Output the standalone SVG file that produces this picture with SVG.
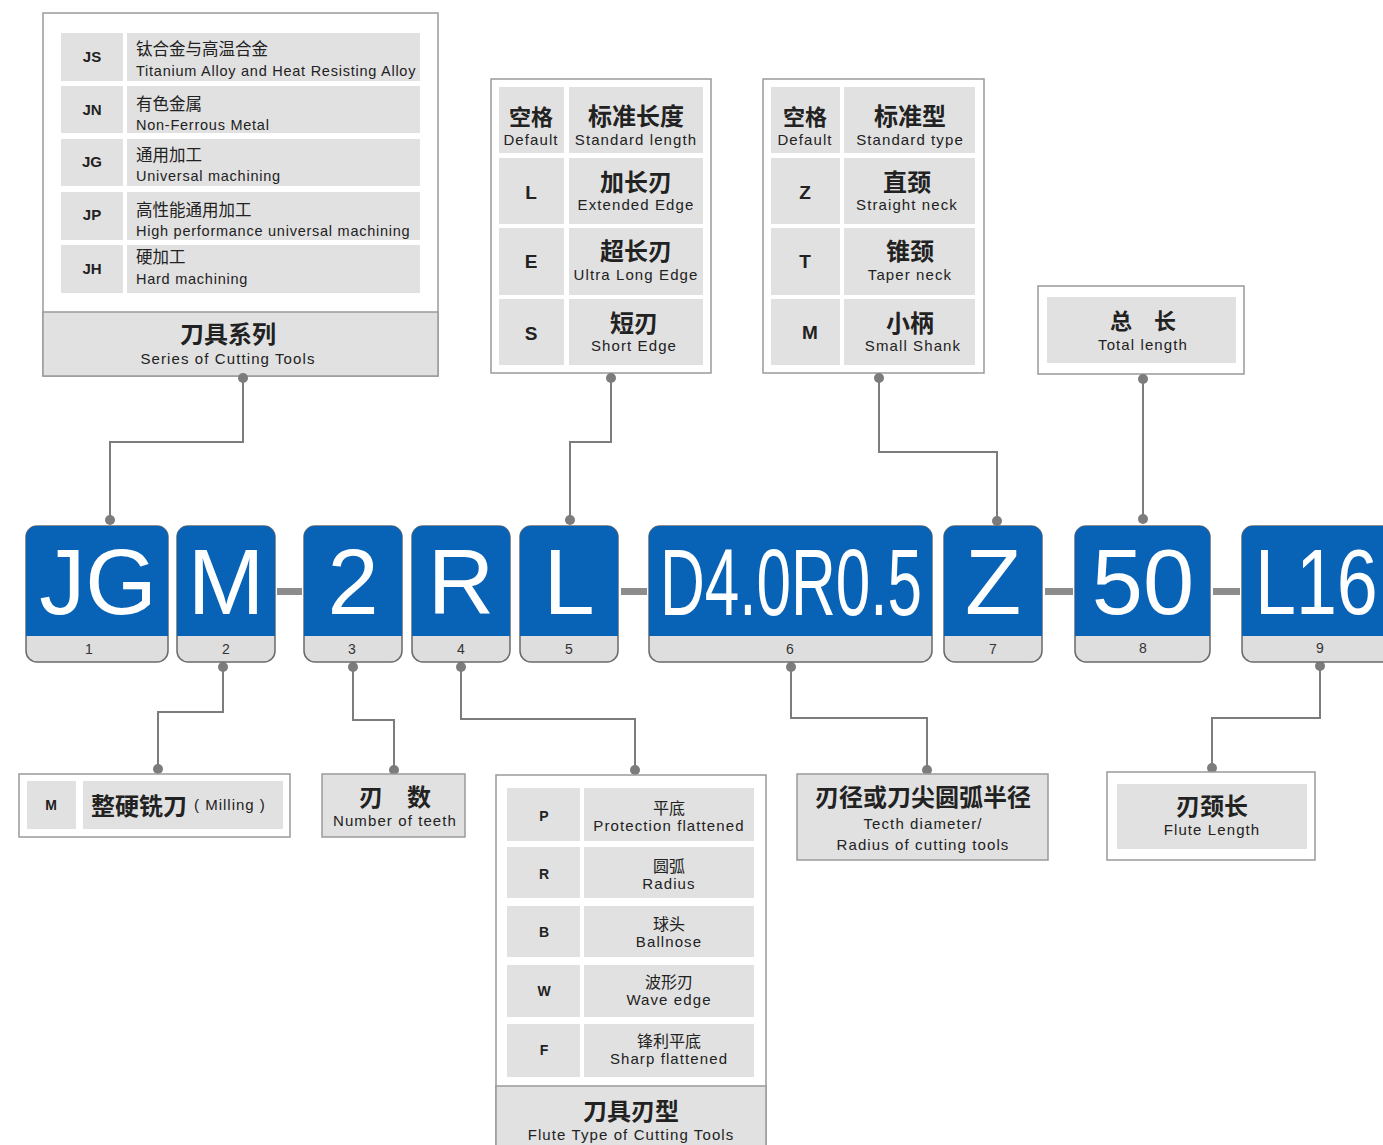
<svg xmlns="http://www.w3.org/2000/svg" width="1383" height="1145" viewBox="0 0 1383 1145">
<style>
.box{fill:#fff;stroke:#9a9a9a;stroke-width:1.5}
.cell{fill:#e1e1e1}
.gbox{fill:#e1e1e1;stroke:#9a9a9a;stroke-width:1.5}
text{font-family:"Liberation Sans","Noto Sans CJK SC",sans-serif;fill:#222}
.k{font-weight:bold;font-size:15px;text-anchor:middle}
.kb{font-weight:bold;font-size:19px;text-anchor:middle}
.cn{font-size:16.5px}
.en{font-size:14.5px;letter-spacing:0.75px}
.h{font-weight:bold;font-size:24px;text-anchor:middle}
.s{font-size:15px;text-anchor:middle;letter-spacing:1.1px}
.sc{font-size:16px;text-anchor:middle}
.big{font-size:92px;fill:#fff;text-anchor:middle}
.num{font-size:14px;fill:#333;text-anchor:middle}
.blue{fill:#0862b6}
.band{fill:#dedede;stroke:#6a6a6a;stroke-width:1.5}
.line{fill:none;stroke:#7c7c7c;stroke-width:2}
.dot{fill:#7c7c7c}
.dash{fill:#8c8c8c}
</style>

<g id="series-box">
<rect class="box" x="43" y="13" width="395" height="363"/>
<rect class="cell" x="61" y="33" width="62" height="48"/><rect class="cell" x="127" y="33" width="293" height="48"/>
<rect class="cell" x="61" y="86" width="62" height="47"/><rect class="cell" x="127" y="86" width="293" height="47"/>
<rect class="cell" x="61" y="139" width="62" height="47"/><rect class="cell" x="127" y="139" width="293" height="47"/>
<rect class="cell" x="61" y="192" width="62" height="48"/><rect class="cell" x="127" y="192" width="293" height="48"/>
<rect class="cell" x="61" y="245" width="62" height="48"/><rect class="cell" x="127" y="245" width="293" height="48"/>
<text class="k" x="92" y="62">JS</text>
<text class="cn" x="136" y="55">钛合金与高温合金</text><text class="en" x="136" y="76">Titanium Alloy and Heat Resisting Alloy</text>
<text class="k" x="92" y="115">JN</text>
<text class="cn" x="136" y="110">有色金属</text><text class="en" x="136" y="130">Non-Ferrous Metal</text>
<text class="k" x="92" y="167">JG</text>
<text class="cn" x="136" y="161">通用加工</text><text class="en" x="136" y="181">Universal machining</text>
<text class="k" x="92" y="220">JP</text>
<text class="cn" x="136" y="216">高性能通用加工</text><text class="en" x="136" y="236">High performance universal machining</text>
<text class="k" x="92" y="274">JH</text>
<text class="cn" x="136" y="263">硬加工</text><text class="en" x="136" y="284">Hard machining</text>
<rect class="gbox" x="43" y="312" width="395" height="64"/>
<text class="h" x="228" y="343">刀具系列</text>
<text class="s" x="228" y="364">Series of Cutting Tools</text>
</g>

<g id="length-box">
<rect class="box" x="491" y="79" width="220" height="294"/>
<rect class="cell" x="499" y="87" width="65" height="66"/><rect class="cell" x="569" y="87" width="134" height="66"/>
<rect class="cell" x="499" y="158" width="65" height="66"/><rect class="cell" x="569" y="158" width="134" height="66"/>
<rect class="cell" x="499" y="228" width="65" height="67"/><rect class="cell" x="569" y="228" width="134" height="67"/>
<rect class="cell" x="499" y="299" width="65" height="66"/><rect class="cell" x="569" y="299" width="134" height="66"/>
<text class="h" x="531" y="125" style="font-size:22px">空格</text><text class="s" x="531" y="145">Default</text>
<text class="h" x="636" y="125">标准长度</text><text class="s" x="636" y="145">Standard length</text>
<text class="kb" x="531" y="199">L</text>
<text class="h" x="636" y="191">加长刃</text><text class="s" x="636" y="210">Extended Edge</text>
<text class="kb" x="531" y="268">E</text>
<text class="h" x="636" y="260">超长刃</text><text class="s" x="636" y="280">Ultra Long Edge</text>
<text class="kb" x="531" y="340">S</text>
<text class="h" x="634" y="332">短刃</text><text class="s" x="634" y="351">Short Edge</text>
</g>

<g id="neck-box">
<rect class="box" x="763" y="79" width="221" height="294"/>
<rect class="cell" x="771" y="87" width="69" height="66"/><rect class="cell" x="844" y="87" width="131" height="66"/>
<rect class="cell" x="771" y="158" width="69" height="66"/><rect class="cell" x="844" y="158" width="131" height="66"/>
<rect class="cell" x="771" y="228" width="69" height="67"/><rect class="cell" x="844" y="228" width="131" height="67"/>
<rect class="cell" x="771" y="299" width="69" height="66"/><rect class="cell" x="844" y="299" width="131" height="66"/>
<text class="h" x="805" y="125" style="font-size:22px">空格</text><text class="s" x="805" y="145">Default</text>
<text class="h" x="910" y="125">标准型</text><text class="s" x="910" y="145">Standard type</text>
<text class="kb" x="805" y="199">Z</text>
<text class="h" x="907" y="191">直颈</text><text class="s" x="907" y="210">Straight neck</text>
<text class="kb" x="805" y="268">T</text>
<text class="h" x="910" y="260">锥颈</text><text class="s" x="910" y="280">Taper neck</text>
<text class="kb" x="810" y="339">M</text>
<text class="h" x="910" y="332">小柄</text><text class="s" x="913" y="351">Small Shank</text>
</g>

<g id="total-box">
<rect class="box" x="1038" y="286" width="206" height="88"/>
<rect class="cell" x="1047" y="297" width="189" height="66"/>
<text class="h" x="1143" y="329" style="font-size:22px">总　长</text>
<text class="s" x="1143" y="350">Total  length</text>
</g>

<g id="connectors">
<polyline class="line" points="243,378 243,442 110,442 110,520"/>
<circle class="dot" cx="243" cy="378" r="5"/><circle class="dot" cx="110" cy="520" r="5"/>
<polyline class="line" points="611,378 611,442 570,442 570,520"/>
<circle class="dot" cx="611" cy="378" r="5"/><circle class="dot" cx="570" cy="520" r="5"/>
<polyline class="line" points="879,378 879,452 997,452 997,521"/>
<circle class="dot" cx="879" cy="378" r="5"/><circle class="dot" cx="997" cy="521" r="5"/>
<polyline class="line" points="1143,379 1143,519"/>
<circle class="dot" cx="1143" cy="379" r="5"/><circle class="dot" cx="1143" cy="519" r="5"/>
<polyline class="line" points="223,667 223,712 158,712 158,769"/>
<circle class="dot" cx="223" cy="667" r="5"/><circle class="dot" cx="158" cy="769" r="5"/>
<polyline class="line" points="353,667 353,720 394,720 394,770"/>
<circle class="dot" cx="353" cy="667" r="5"/><circle class="dot" cx="394" cy="770" r="5"/>
<polyline class="line" points="461,667 461,719 635,719 635,770"/>
<circle class="dot" cx="461" cy="667" r="5"/><circle class="dot" cx="635" cy="770" r="5"/>
<polyline class="line" points="791,667 791,718 927,718 927,770"/>
<circle class="dot" cx="791" cy="667" r="5"/><circle class="dot" cx="927" cy="770" r="5"/>
<polyline class="line" points="1320,666 1320,718 1212,718 1212,768"/>
<circle class="dot" cx="1320" cy="666" r="5"/><circle class="dot" cx="1212" cy="768" r="5"/>
</g>

<g id="dashes">
<rect class="dash" x="277" y="588" width="25" height="7"/>
<rect class="dash" x="621" y="588" width="26" height="7"/>
<rect class="dash" x="1045" y="588" width="28" height="7"/>
<rect class="dash" x="1213" y="588" width="27" height="7"/>
</g>

<g id="code-1">
<rect class="band" x="26" y="526" width="142" height="136" rx="11"/>
<path class="blue" d="M26,636 V537 a11,11 0 0 1 11,-11 H157 a11,11 0 0 1 11,11 V636 Z"/>
<text class="big" x="98" y="614">JG</text><text class="num" x="89" y="654">1</text>
</g>
<g id="code-2">
<rect class="band" x="177" y="526" width="98" height="136" rx="11"/>
<path class="blue" d="M177,636 V537 a11,11 0 0 1 11,-11 H264 a11,11 0 0 1 11,11 V636 Z"/>
<text class="big" x="226" y="614">M</text><text class="num" x="226" y="654">2</text>
</g>
<g id="code-3">
<rect class="band" x="304" y="526" width="98" height="136" rx="11"/>
<path class="blue" d="M304,636 V537 a11,11 0 0 1 11,-11 H391 a11,11 0 0 1 11,11 V636 Z"/>
<text class="big" x="353" y="614">2</text><text class="num" x="352" y="654">3</text>
</g>
<g id="code-4">
<rect class="band" x="412" y="526" width="98" height="136" rx="11"/>
<path class="blue" d="M412,636 V537 a11,11 0 0 1 11,-11 H499 a11,11 0 0 1 11,11 V636 Z"/>
<text class="big" x="461" y="614">R</text><text class="num" x="461" y="654">4</text>
</g>
<g id="code-5">
<rect class="band" x="520" y="526" width="98" height="136" rx="11"/>
<path class="blue" d="M520,636 V537 a11,11 0 0 1 11,-11 H607 a11,11 0 0 1 11,11 V636 Z"/>
<text class="big" x="569" y="614">L</text><text class="num" x="569" y="654">5</text>
</g>
<g id="code-6">
<rect class="band" x="649" y="526" width="283" height="136" rx="11"/>
<path class="blue" d="M649,636 V537 a11,11 0 0 1 11,-11 H921 a11,11 0 0 1 11,11 V636 Z"/>
<text class="big" transform="translate(791,615) scale(0.66,1)" x="0" y="0" style="font-size:94px">D4.0R0.5</text><text class="num" x="790" y="654">6</text>
</g>
<g id="code-7">
<rect class="band" x="944" y="526" width="98" height="136" rx="11"/>
<path class="blue" d="M944,636 V537 a11,11 0 0 1 11,-11 H1031 a11,11 0 0 1 11,11 V636 Z"/>
<text class="big" x="993" y="614">Z</text><text class="num" x="993" y="654">7</text>
</g>
<g id="code-8">
<rect class="band" x="1075" y="526" width="135" height="136" rx="11"/>
<path class="blue" d="M1075,636 V537 a11,11 0 0 1 11,-11 H1199 a11,11 0 0 1 11,11 V636 Z"/>
<text class="big" x="1143" y="614">50</text><text class="num" x="1143" y="653">8</text>
</g>
<g id="code-9">
<rect class="band" x="1242" y="526" width="160" height="136" rx="11"/>
<path class="blue" d="M1242,636 V537 a11,11 0 0 1 11,-11 H1391 a11,11 0 0 1 11,11 V636 Z"/>
<text class="big" transform="translate(1255,614) scale(0.8,1)" x="0" y="0" style="text-anchor:start">L16</text><text class="num" x="1320" y="653">9</text>
</g>

<g id="milling-box">
<rect class="box" x="19" y="774" width="271" height="63"/>
<rect class="cell" x="27" y="781" width="49" height="48"/>
<rect class="cell" x="83" y="781" width="200" height="48"/>
<text class="k" x="51" y="810" style="font-size:14px">M</text>
<text x="91" y="815" style="font-weight:bold;font-size:24px">整硬铣刀</text>
<text x="194" y="810" style="font-size:15px;letter-spacing:1px">( Milling )</text>
</g>

<g id="teeth-box">
<rect class="gbox" x="322" y="774" width="143" height="63"/>
<text class="h" x="395" y="806">刃　数</text>
<text class="s" x="395" y="826">Number of teeth</text>
</g>

<g id="flute-type-box">
<rect class="box" x="496" y="775" width="270" height="380"/>
<rect class="cell" x="507" y="788" width="73" height="53"/><rect class="cell" x="584" y="788" width="170" height="53"/>
<rect class="cell" x="507" y="847" width="73" height="51"/><rect class="cell" x="584" y="847" width="170" height="51"/>
<rect class="cell" x="507" y="906" width="73" height="51"/><rect class="cell" x="584" y="906" width="170" height="51"/>
<rect class="cell" x="507" y="965" width="73" height="52"/><rect class="cell" x="584" y="965" width="170" height="52"/>
<rect class="cell" x="507" y="1024" width="73" height="53"/><rect class="cell" x="584" y="1024" width="170" height="53"/>
<text class="k" x="544" y="821" style="font-size:14px">P</text>
<text class="sc" x="669" y="814">平底</text><text class="s" x="669" y="831">Protection flattened</text>
<text class="k" x="544" y="879" style="font-size:14px">R</text>
<text class="sc" x="669" y="872">圆弧</text><text class="s" x="669" y="889">Radius</text>
<text class="k" x="544" y="937" style="font-size:14px">B</text>
<text class="sc" x="669" y="930">球头</text><text class="s" x="669" y="947">Ballnose</text>
<text class="k" x="544" y="996" style="font-size:14px">W</text>
<text class="sc" x="669" y="988">波形刃</text><text class="s" x="669" y="1005">Wave edge</text>
<text class="k" x="544" y="1055" style="font-size:14px">F</text>
<text class="sc" x="669" y="1047">锋利平底</text><text class="s" x="669" y="1064">Sharp flattened</text>
<rect class="gbox" x="496" y="1086" width="270" height="70"/>
<text class="h" x="631" y="1120">刀具刃型</text>
<text class="s" x="631" y="1140">Flute Type of Cutting Tools</text>
</g>

<g id="diameter-box">
<rect class="gbox" x="797" y="774" width="251" height="86"/>
<text class="h" x="923" y="806">刃径或刀尖圆弧半径</text>
<text class="s" x="923" y="829">Tecth diameter/</text>
<text class="s" x="923" y="850">Radius of cutting tools</text>
</g>

<g id="flute-length-box">
<rect class="box" x="1107" y="772" width="208" height="88"/>
<rect class="cell" x="1117" y="784" width="190" height="65"/>
<text class="h" x="1212" y="815">刃颈长</text>
<text class="s" x="1212" y="835">Flute Length</text>
</g>
</svg>
